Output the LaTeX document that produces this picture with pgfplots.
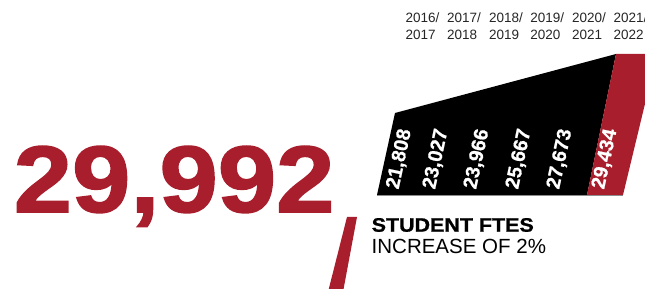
\documentclass[border=0pt]{standalone}
\usepackage{pgfplots}
\pgfplotsset{compat=1.18}
\usepackage{fontspec}
\setmainfont{Liberation Sans}
\newfontfamily\heavyfont[FakeBold=1.6]{Liberation Sans Bold}
\newfontfamily\semiheavyfont[FakeBold=0.8]{Liberation Sans Bold}
\definecolor{fred}{RGB}{168,30,45}
\begin{document}
\begin{tikzpicture}
\useasboundingbox (0,0) rectangle (645pt,289pt);
\clip (0,0) rectangle (645pt,289pt);
\begin{axis}[at={(0pt,0pt)}, anchor=south west, x=1pt, y=1pt,
  xmin=0, xmax=645, ymin=0, ymax=289, hide axis, clip=true]
% black skewed area
\addplot[fill=black, draw=none] coordinates {(377,94) (395,176) (616,235) (587,94)} -- cycle;
% red skewed band (latest year)
\addplot[fill=fred, draw=none] coordinates {(587,94) (616,235) (657,235) (623,94)} -- cycle;
% baseline
\addplot[black!45, line width=0.9pt] coordinates {(377,93.6) (623,93.6)};
% red slash
\addplot[fill=fred, draw=none] coordinates {(328,-3) (347,72) (357,72) (343,-3)} -- cycle;
% values
\addplot[only marks, mark=none, point meta=explicit symbolic, nodes near coords,
  every node near coord/.append style={anchor=center, rotate=78, text=white, inner sep=0pt,
  font=\semiheavyfont\fontsize{19.8}{20}\selectfont}]
  coordinates {(399.5,130)[21,808] (436,130)[23,027] (477,130)[23,966] (519,130)[25,667] (560,130)[27,673] (605,130)[29,434]};
% year labels, first line
\addplot[only marks, mark=none, point meta=explicit symbolic, nodes near coords,
  every node near coord/.append style={anchor=base west, text=black!85, inner sep=0pt,
  font=\fontsize{13.5}{14}\selectfont}]
  coordinates {(405.5,266.3)[2016/] (447,266.3)[2017/] (488.8,266.3)[2018/] (530.2,266.3)[2019/] (571.8,266.3)[2020/] (613.5,266.3)[2021/]};
% year labels, second line
\addplot[only marks, mark=none, point meta=explicit symbolic, nodes near coords,
  every node near coord/.append style={anchor=base west, text=black!85, inner sep=0pt,
  font=\fontsize{13.5}{14}\selectfont}]
  coordinates {(405.5,249.7)[2017] (447,249.7)[2018] (488.8,249.7)[2019] (530.2,249.7)[2020] (571.8,249.7)[2021] (613.5,249.7)[2022]};
% headline number and caption
\node[anchor=base west, inner sep=0pt, text=fred, font=\heavyfont\fontsize{94.5}{95}\selectfont]
  at (axis cs:13.5,77) {\scalebox{1.11}[1]{29,992}};
\node[anchor=base west, inner sep=0pt, font=\semiheavyfont\fontsize{19.5}{20}\selectfont]
  at (axis cs:371.5,57.3) {\scalebox{1.1}[1]{STUDENT FTES}};
\node[anchor=base west, inner sep=0pt, font=\fontsize{20.5}{21}\selectfont]
  at (axis cs:371.5,35.7) {INCREASE OF 2\%};
\end{axis}
\end{tikzpicture}
\end{document}
